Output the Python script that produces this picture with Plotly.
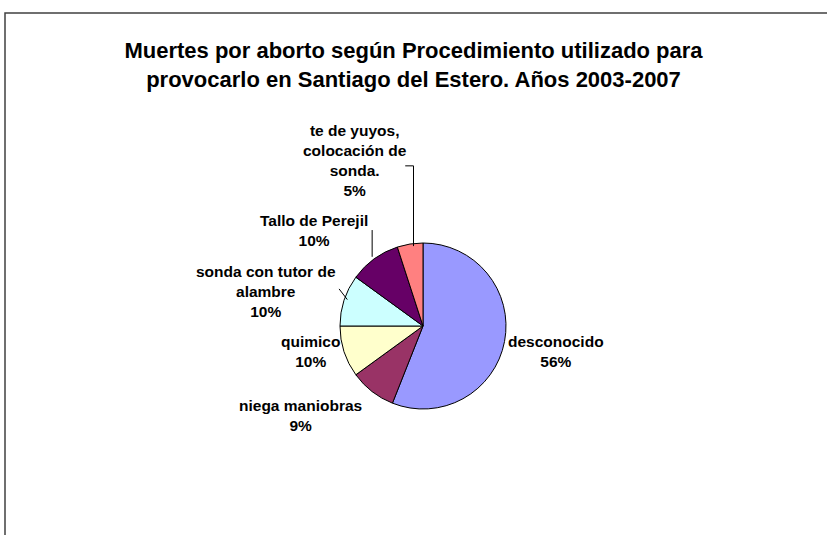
import math
import plotly.graph_objects as go

categories = ["desconocido", "niega maniobras", "quimico", "sonda con tutor de<br>alambre",
              "Tallo de Perejil", "te de yuyos,<br>colocación de<br>sonda."]
values = [56, 9, 10, 10, 10, 5]
colors = ["#9999FF", "#993366", "#FFFFCC", "#CCFFFF", "#660066", "#FF8080"]
title_text = "Muertes por aborto según Procedimiento utilizado para<br>provocarlo en Santiago del Estero. Años 2003-2007"

W, H = 827, 535
cx, cy, r = 423, 326, 83
FONT = "Liberation Sans, Arial, sans-serif"

# label offsets (pixels) relative to the slice's mid-angle point on the rim
label_offsets = [(51, 10), (-72, 24), (-34, 0), (-78, -9), (-60, -28), (-55, -84)]
# leader lines: (elbow offset from rim point, horizontal tick length) or None
leaders = [None, None, None, (-2, -9.5, 5), (1, -30, 4), (0, -80, 5)]

fig = go.Figure(go.Pie(
    labels=categories,
    values=values,
    sort=False,
    direction="clockwise",
    rotation=0,
    marker=dict(colors=colors, line=dict(color="#000000", width=1)),
    textinfo="none",
    hoverinfo="label+percent",
    showlegend=False,
    domain=dict(x=[(cx - r) / W, (cx + r) / W], y=[(H - cy - r) / H, (H - cy + r) / H]),
))

total = sum(values)
cum = 0
annotations = []
shapes = []
for lab, v, off, ld in zip(categories, values, label_offsets, leaders):
    mid = math.radians((cum + v / 2) / total * 360)
    cum += v
    ax = cx + r * math.sin(mid)
    ay = cy - r * math.cos(mid)
    pct = round(v / total * 100)
    lx, ly = ax + off[0], ay + off[1]
    annotations.append(dict(
        x=lx / W, y=1 - ly / H, xref="paper", yref="paper",
        text="<b>%s<br>%d%%</b>" % (lab, pct), showarrow=False,
        xanchor="center", yanchor="middle", align="center",
        font=dict(family=FONT, size=15.5, color="#000000"),
    ))
    if ld is not None:
        ex, ey = ax + ld[0], ay + ld[1]
        sx = ex - ld[2]
        path = "M %.2f %.2f L %.2f %.2f L %.2f %.2f" % (
            sx / W, 1 - ey / H, ex / W, 1 - ey / H, ax / W, 1 - ay / H)
        shapes.append(dict(type="path", xref="paper", yref="paper", path=path,
                           line=dict(color="#000000", width=1)))

shapes.append(dict(type="rect", xref="paper", yref="paper",
                   x0=5 / W, x1=1.05, y0=-0.05, y1=1 - 13 / H,
                   line=dict(color="#404040", width=1.5)))

fig.update_layout(
    width=W, height=H,
    margin=dict(l=0, r=0, t=0, b=0),
    paper_bgcolor="white",
    font=dict(family=FONT, color="#000000"),
    title=dict(text="<b>" + title_text + "</b>", x=0.5, xanchor="center",
               y=1 - 58 / H, yanchor="top",
               font=dict(size=22, family=FONT, color="#000000")),
    annotations=annotations,
    shapes=shapes,
)

fig.write_html("out.html")
